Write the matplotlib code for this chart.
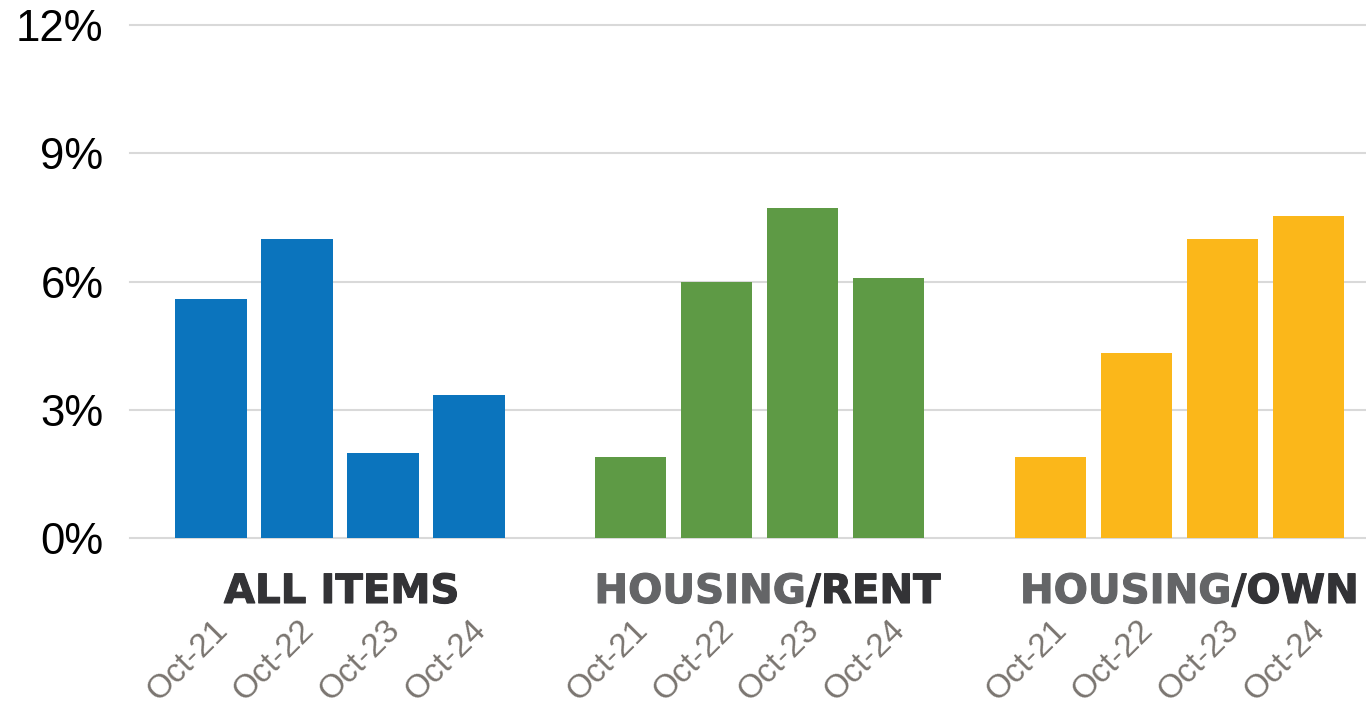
import matplotlib
matplotlib.use('Agg')
import matplotlib.pyplot as plt
import numpy as np
import matplotlib.patheffects as pe
from matplotlib.transforms import ScaledTranslation, blended_transform_factory

# ---- data ----
groups = ['ALL ITEMS', 'HOUSING/RENT', 'HOUSING/OWN']
periods = ['Oct-21', 'Oct-22', 'Oct-23', 'Oct-24']
all_items = [5.6, 7.0, 2.0, 3.35]
housing_rent = [1.9, 6.0, 7.72, 6.08]
housing_own = [1.9, 4.33, 7.0, 7.53]
yticks = [0, 3, 6, 9, 12]
ytick_labels = ['0%', '3%', '6%', '9%', '12%']

series = [all_items, housing_rent, housing_own]
colors = ['#0B74BD', '#5E9A45', '#FBB71A']

W, H = 1366, 708
fig = plt.figure(figsize=(W / 100, H / 100), dpi=100)
ax = fig.add_axes([130 / W, 1 - 538 / H, 1 - 130 / W, (538 - 25) / H])

group_gap = 4.88
width = 0.83
all_pos = []
all_lab = []
for g, vals in enumerate(series):
    pos = g * group_gap + np.arange(len(vals))
    ax.bar(pos, vals, width=width, color=colors[g], zorder=3)
    all_pos.extend(pos)
    all_lab.extend(periods)

ax.set_xlim(-0.94, 13.43)
ax.set_ylim(0, 12)
ax.set_yticks(yticks)
ax.set_yticklabels(ytick_labels, fontsize=31.5, fontfamily='Liberation Sans', color='#000000')
for y in yticks:
    ax.axhline(y, color='#d9d9d9', lw=1.5, zorder=1, clip_on=False)
ax.set_xticks(all_pos)
ax.set_xticklabels(all_lab, rotation=45, ha='right', va='center', rotation_mode='anchor',
                   fontsize=24, fontfamily='Liberation Sans', color='#7a7570')
ax.tick_params(axis='x', length=0, pad=63)
ax.tick_params(axis='y', length=0, pad=19)
offset = ScaledTranslation(0.12, 0, fig.dpi_scale_trans)
for lab in ax.get_xticklabels():
    lab.set_transform(lab.get_transform() + offset)
for s in ax.spines.values():
    s.set_visible(False)

# group labels
trans = blended_transform_factory(ax.transData, ax.transAxes)
ylab = -0.1267
shifts_px = [2, 8, 10]
fig.canvas.draw()
renderer = fig.canvas.get_renderer()
gray = '#646567'
dark = '#333336'
for g, name in enumerate(groups):
    cx = g * group_gap + 1.5
    if '/' in name:
        a, b = name.split('/')
        parts = [(a, gray), ('/' + b, dark)]
    else:
        parts = [(name, dark)]
    texts = []
    for txt, col in parts:
        t = ax.text(0, 0, txt, fontsize=29, fontweight='bold', fontfamily='DejaVu Sans',
                    color=col, transform=trans, ha='left', va='baseline',
                    path_effects=[pe.withStroke(linewidth=0.8, foreground=col)])
        texts.append(t)
    widths = [t.get_window_extent(renderer).width for t in texts]
    total = sum(widths)
    cx_pix = ax.transData.transform((cx, 0))[0] + shifts_px[g]
    start = cx_pix - total / 2
    for t, w in zip(texts, widths):
        xd = ax.transData.inverted().transform((start, 0))[0]
        t.set_position((xd, ylab))
        start += w

fig.savefig('out.png', dpi=100)
